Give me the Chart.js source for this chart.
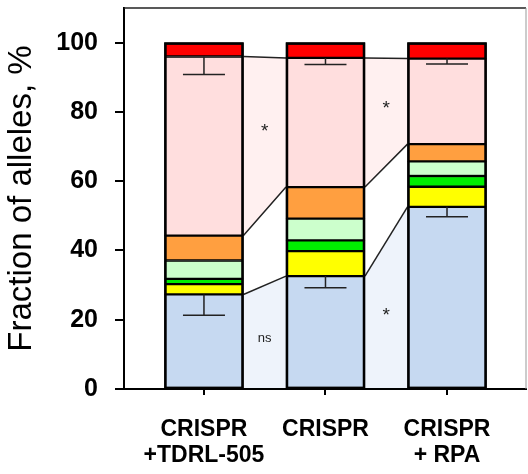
<!DOCTYPE html>
<html>
<head>
<meta charset="utf-8">
<script src="https://cdn.jsdelivr.net/npm/chart.js@4"></script>
<style>
  html, body { margin: 0; padding: 0; background: #fff; }
</style>
</head>
<body>
<canvas id="chart" width="528" height="474"></canvas>
<script>
// data
const positions = [1, 2, 3];
const categories = [['CRISPR', '+TDRL-505'], ['CRISPR'], ['CRISPR', '+ RPA']];
const blue = [27.3, 32.6, 52.6];
const yellow = [3.0, 7.2, 5.8];
const darkGreen = [1.5, 3.1, 3.1];
const lightGreen = [5.3, 6.3, 4.2];
const orange = [7.2, 9.1, 5.0];
const pink = [51.7, 37.3, 24.7];
const red = [4.0, 4.4, 4.6];
const blueErr = [6.0, 3.4, 2.9];
const pinkErr = [5.2, 1.9, 1.6];
const yTicks = [0, 20, 40, 60, 80, 100];
const noteX = [1.5, 1.5, 2.5, 2.5];
const noteY = [74.4, 14.5, 81, 21];
const noteText = ['*', 'ns', '*', '*'];

const FONT = '"Liberation Sans", Arial, sans-serif';

const series = [
  { label: 'blue', data: blue, color: '#c6d9f1' },
  { label: 'yellow', data: yellow, color: '#ffff00' },
  { label: 'darkGreen', data: darkGreen, color: '#00ee00' },
  { label: 'lightGreen', data: lightGreen, color: '#ccffcc' },
  { label: 'orange', data: orange, color: '#ff9f40' },
  { label: 'pink', data: pink, color: '#ffdede' },
  { label: 'red', data: red, color: '#ff0000' }
];

function noPad(s) {
  s.paddingTop = 0; s.paddingBottom = 0; s.paddingLeft = 0; s.paddingRight = 0;
}

const connectors = {
  id: 'connectors',
  beforeDatasetsDraw(chart) {
    const ctx = chart.ctx;
    const bands = [
      { meta: chart.getDatasetMeta(0), fill: '#eef3fb', lower: false },
      { meta: chart.getDatasetMeta(5), fill: '#fff0f0', lower: true }
    ];
    ctx.save();
    bands.forEach(b => {
      const els = b.meta.data;
      for (let j = 0; j < els.length - 1; j++) {
        const a = els[j], c = els[j + 1];
        const x1 = a.x + a.width / 2, x2 = c.x - c.width / 2;
        ctx.fillStyle = b.fill;
        ctx.beginPath();
        ctx.moveTo(x1, a.y);
        ctx.lineTo(x2, c.y);
        ctx.lineTo(x2, c.base);
        ctx.lineTo(x1, a.base);
        ctx.closePath();
        ctx.fill();
      }
    });
    ctx.strokeStyle = '#222';
    ctx.lineWidth = 1.5;
    bands.forEach(b => {
      const els = b.meta.data;
      for (let j = 0; j < els.length - 1; j++) {
        const a = els[j], c = els[j + 1];
        const x1 = a.x + a.width / 2, x2 = c.x - c.width / 2;
        ctx.beginPath();
        ctx.moveTo(x1, a.y);
        ctx.lineTo(x2, c.y);
        if (b.lower) {
          ctx.moveTo(x1, a.base);
          ctx.lineTo(x2, c.base);
        }
        ctx.stroke();
      }
    });
    ctx.restore();
  },
  afterDatasetsDraw(chart) {
    const ctx = chart.ctx;
    const ys = chart.scales.y, xs = chart.scales.x;
    ctx.save();
    // error bars (lower half only)
    ctx.strokeStyle = '#222';
    ctx.lineWidth = 1.5;
    const drawErr = (metaIdx, errs) => {
      chart.getDatasetMeta(metaIdx).data.forEach((el, j) => {
        const top = ys.getValueForPixel(el.y);
        const yEnd = ys.getPixelForValue(top - errs[j]);
        ctx.beginPath();
        ctx.moveTo(el.x, el.y);
        ctx.lineTo(el.x, yEnd);
        ctx.moveTo(el.x - 21, yEnd);
        ctx.lineTo(el.x + 21, yEnd);
        ctx.stroke();
      });
    };
    drawErr(0, blueErr);
    drawErr(5, pinkErr);
    // outer bar outlines
    ctx.strokeStyle = '#000';
    ctx.lineWidth = 2.5;
    const bottom = chart.getDatasetMeta(0).data;
    const top = chart.getDatasetMeta(6).data;
    bottom.forEach((el, j) => {
      const t = top[j];
      ctx.strokeRect(el.x - el.width / 2 + 1, t.y + 1, el.width - 2, el.base - t.y - 1);
    });
    // significance notes
    ctx.fillStyle = '#222';
    ctx.textAlign = 'center';
    ctx.textBaseline = 'middle';
    noteText.forEach((t, i) => {
      ctx.font = (t === '*' ? '19px ' : '13px ') + FONT;
      ctx.fillText(t, xs.getPixelForValue(noteX[i]), ys.getPixelForValue(noteY[i]));
    });
    ctx.restore();
  },
  afterDraw(chart) {
    const ctx = chart.ctx, a = chart.chartArea;
    ctx.save();
    ctx.strokeStyle = '#222';
    ctx.lineWidth = 1.5;
    ctx.beginPath();
    ctx.moveTo(a.left, a.top);
    ctx.lineTo(a.right, a.top);
    ctx.stroke();
    ctx.strokeStyle = '#999';
    ctx.lineWidth = 1;
    ctx.beginPath();
    ctx.moveTo(a.right, a.top);
    ctx.lineTo(a.right, a.bottom);
    ctx.stroke();
    ctx.restore();
  }
};

new Chart(document.getElementById('chart'), {
  type: 'bar',
  data: {
    labels: positions,
    datasets: series.map(s => ({
      label: s.label,
      data: s.data,
      backgroundColor: s.color,
      borderColor: '#000',
      borderWidth: 1.5,
      borderSkipped: false,
      barThickness: 79
    }))
  },
  plugins: [connectors],
  options: {
    responsive: false,
    animation: false,
    layout: { padding: { top: 8, right: 2, left: 0, bottom: 0 } },
    plugins: { legend: { display: false }, tooltip: { enabled: false } },
    scales: {
      x: {
        type: 'linear',
        offset: false,
        stacked: true,
        min: 0.342,
        max: 3.65,
        afterBuildTicks: s => { s.ticks = positions.map(v => ({ value: v })); },
        afterFit: s => { s.height = 85; noPad(s); },
        border: { display: true, color: '#000', width: 2 },
        grid: { offset: false, drawOnChartArea: false, color: '#000', lineWidth: 2, tickLength: 6 },
        ticks: {
          color: '#000',
          padding: 22,
          maxRotation: 0,
          autoSkip: false,
          font: { family: FONT, size: 23, weight: 'bold', lineHeight: 1.13 },
          callback: v => categories[positions.indexOf(v)]
        }
      },
      y: {
        stacked: true,
        min: 0,
        max: 110,
        afterBuildTicks: s => { s.ticks = yTicks.map(v => ({ value: v })); },
        afterFit: s => { s.width = 124; noPad(s); },
        border: { display: true, color: '#000', width: 2 },
        grid: { drawOnChartArea: false, color: '#000', lineWidth: 2, tickLength: 9 },
        ticks: {
          color: '#000',
          padding: 17,
          font: { family: FONT, size: 25, weight: 'bold' }
        },
        title: {
          display: true,
          text: 'Fraction of alleles, %',
          color: '#000',
          font: { family: FONT, size: 33, lineHeight: 1 },
          padding: { top: 5, bottom: 0 }
        }
      }
    }
  }
});
</script>
</body>
</html>
